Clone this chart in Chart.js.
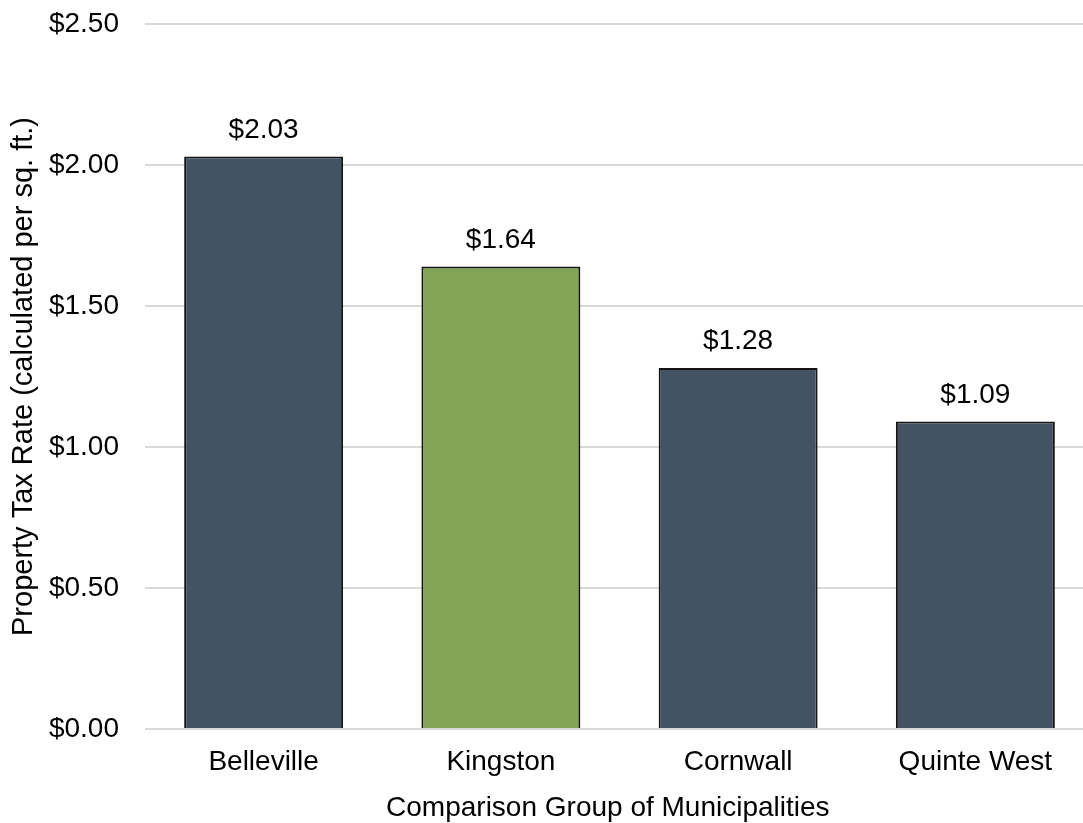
<!DOCTYPE html>
<html>
<head>
<meta charset="utf-8">
<title>Property Tax Rate by Municipality</title>
<script src="https://cdn.jsdelivr.net/npm/chart.js@4/dist/chart.umd.min.js"></script>
<style>
  html, body { margin: 0; padding: 0; background: #ffffff; }
  #wrap { width: 1083px; height: 823px; overflow: hidden; }
  #chart { display: block; }
</style>
</head>
<body>
<div id="wrap"><canvas id="chart" width="1094" height="823"></canvas></div>
<script>
// Municipalities in the comparison group and their rate per square foot
const municipalities = ['Belleville', 'Kingston', 'Cornwall', 'Quinte West'];
const taxRates = [2.03, 1.64, 1.28, 1.09];
const barColors = ['#435363', '#84a556', '#435363', '#435363'];
const yTicks = [0, 0.5, 1.0, 1.5, 2.0, 2.5];

const FONT = 'Liberation Sans, Arial, Helvetica, sans-serif';
const money = v => '$' + v.toFixed(2);

// Writes each bar's value just above it
const valueLabels = {
  id: 'valueLabels',
  afterDatasetsDraw(chart) {
    const ctx = chart.ctx;
    const meta = chart.getDatasetMeta(0);
    ctx.save();
    ctx.font = '28px ' + FONT;
    ctx.fillStyle = '#000000';
    ctx.textAlign = 'center';
    ctx.textBaseline = 'alphabetic';
    meta.data.forEach((bar, i) => {
      ctx.fillText(money(taxRates[i]), bar.x, bar.y - 19);
    });
    ctx.restore();
  }
};

new Chart(document.getElementById('chart'), {
  type: 'bar',
  data: {
    labels: municipalities,
    datasets: [{
      data: taxRates,
      backgroundColor: barColors,
      borderColor: '#151515',
      borderWidth: 2,
      categoryPercentage: 1.0,
      barPercentage: 0.67
    }]
  },
  options: {
    responsive: false,
    animation: false,
    layout: { padding: { top: 24, right: 0, bottom: 0, left: 0 } },
    plugins: {
      legend: { display: false },
      tooltip: { enabled: false }
    },
    scales: {
      x: {
        grid: { display: false, drawTicks: false },
        border: { display: false },
        ticks: {
          color: '#000000',
          font: { family: FONT, size: 28 },
          padding: 16,
          maxRotation: 0
        },
        title: {
          display: true,
          // trailing spaces nudge the centred title left of the clipped right edge
          text: 'Comparison Group of Municipalities   ',
          color: '#000000',
          font: { family: FONT, size: 28 },
          padding: { top: 0, bottom: -2 }
        },
        afterFit(scale) {
          scale.height = 94;
          scale.paddingLeft = 0;
          scale.paddingRight = 0;
        }
      },
      y: {
        min: 0,
        max: 2.5,
        afterBuildTicks(scale) {
          scale.ticks = yTicks.map(v => ({ value: v }));
        },
        grid: { color: '#d9d9d9', lineWidth: 2, drawTicks: false },
        border: { display: false },
        ticks: {
          color: '#000000',
          font: { family: FONT, size: 28 },
          padding: 26,
          callback: v => money(v)
        },
        title: {
          display: true,
          text: 'Property Tax Rate (calculated per sq. ft.)',
          color: '#000000',
          font: { family: FONT, size: 29 },
          padding: { top: 7, bottom: 0 }
        },
        afterFit(scale) {
          scale.width = 145;
          scale.paddingTop = 0;
          scale.paddingBottom = 0;
        }
      }
    }
  },
  plugins: [valueLabels]
});
</script>
</body>
</html>
